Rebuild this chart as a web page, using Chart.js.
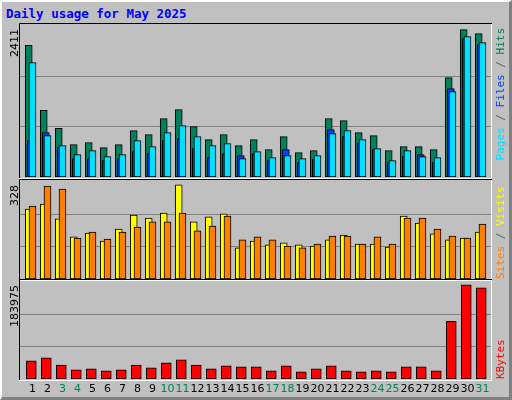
<!DOCTYPE html>
<html>
<head>
<meta charset="utf-8">
<script src="https://cdn.jsdelivr.net/npm/chart.js@4"></script>
<style>
  body { margin: 0; background: #c0c0c0; }
  #wrap {
    position: relative; width: 512px; height: 400px; box-sizing: border-box;
    background: #c0c0c0;
    border-top: 2px solid #ffffff; border-left: 2px solid #ffffff;
    border-right: 3px solid #808080; border-bottom: 3px solid #808080;
    overflow: hidden;
  }
  #title {
    position: absolute; left: 4px; top: 4px;
    font: bold 12.5px "DejaVu Sans Mono", monospace; color: #0000ff;
  }
  canvas { position: absolute; left: -2px; top: -2px; }
</style>
</head>
<body>
<div id="wrap">
  <div id="title">Daily usage for May 2025</div>
  <canvas id="c1" width="512" height="400"></canvas>
  <canvas id="c2" width="512" height="400"></canvas>
  <canvas id="c3" width="512" height="400"></canvas>
</div>
<script>
/* =========================
   DATA
========================= */

const days = [1,2,3,4,5,6,7,8,9,10,11,12,13,14,15,16,17,18,19,20,21,22,23,24,25,26,27,28,29,30,31];
const weekendDays = [3,4,10,11,17,18,24,25,31];

const hits  = [2090,1058,772,513,545,466,513,735,672,926,1069,799,592,672,497,592,434,640,386,418,926,894,704,656,418,481,481,434,1576,2338,2275];
const files = [1814,656,497,354,418,323,354,577,481,704,815,640,497,529,291,402,307,339,291,339,688,735,592,450,259,418,323,307,1354,2227,2132];
const pages = [577,704,466,291,291,259,291,402,370,577,608,450,307,370,339,370,259,434,227,275,751,640,529,434,227,323,354,227,1402,2195,2100];

const visits = [234,251,201,141,154,127,167,214,204,221,315,191,208,218,104,127,114,121,114,110,131,147,117,117,107,211,187,151,131,137,157];
const sites  = [244,311,301,137,157,134,157,174,191,191,221,161,177,211,131,141,131,110,104,117,144,144,117,141,117,204,204,167,144,137,184];

const kbytes = [34236,39942,25994,17118,19020,15216,17118,25994,20922,30432,36138,25994,19020,24726,22824,22824,15216,24726,13314,19020,24726,15216,13314,15216,13314,22824,22824,15216,108414,176886,171180];

const maxHits = 2411;
const maxSites = 328;
const maxKB = 183975;

/* =========================
   HELPERS
========================= */

function pts(values, shift) {
    return values.map((v, i) => ({ x: days[i] + shift, y: v }));
}

function barSet(values, shift, color, width, order) {
    return {
        data: pts(values, shift),
        backgroundColor: color,
        borderColor: "#000000",
        borderWidth: 1,
        borderSkipped: false,
        barThickness: width,
        grouped: false,
        order: order
    };
}

// grid lines, panel frame, max label and side legend
function panelPlugin(maxLabel, legend, alignTop, dayLabels) {
    return {
        id: "panel",
        beforeDatasetsDraw(chart) {
            const ctx = chart.ctx;
            const a = chart.chartArea;
            const y = chart.scales.y;
            ctx.save();
            ctx.strokeStyle = "#808080";
            ctx.lineWidth = 1;
            [y.max / 3, y.max * 2 / 3].forEach(v => {
                const py = Math.round(y.getPixelForValue(v)) + 0.5;
                ctx.beginPath();
                ctx.moveTo(a.left, py);
                ctx.lineTo(a.right, py);
                ctx.stroke();
            });
            ctx.restore();
        },
        afterDraw(chart) {
            const ctx = chart.ctx;
            const a = chart.chartArea;
            ctx.save();
            // frame
            ctx.lineWidth = 1;
            ctx.strokeStyle = "#000000";
            ctx.beginPath();
            ctx.moveTo(a.left - 0.5, a.bottom + 2);
            ctx.lineTo(a.left - 0.5, a.top - 1.5);
            ctx.lineTo(a.right + 1, a.top - 1.5);
            ctx.stroke();
            ctx.strokeStyle = "#ffffff";
            ctx.beginPath();
            ctx.moveTo(a.right + 0.5, a.top - 1);
            ctx.lineTo(a.right + 0.5, a.bottom + 1.5);
            ctx.lineTo(a.left - 1, a.bottom + 1.5);
            ctx.stroke();

            // max value label
            ctx.fillStyle = "#000000";
            ctx.font = "11px 'DejaVu Sans'";
            ctx.translate(18, a.top + 4);
            ctx.rotate(-Math.PI / 2);
            ctx.textAlign = "right";
            ctx.fillText(maxLabel, 0, 0);
            ctx.setTransform(1, 0, 0, 1, 0, 0);

            // side legend, read bottom to top
            ctx.font = "11px 'DejaVu Sans Mono'";
            const total = legend.reduce((s, p) => s + ctx.measureText(p[0]).width, 0);
            let start = alignTop ? a.top + 3 + total : a.bottom;
            ctx.translate(504, start);
            ctx.rotate(-Math.PI / 2);
            ctx.textAlign = "left";
            let off = 0;
            legend.forEach(p => {
                ctx.fillStyle = p[1];
                ctx.fillText(p[0], off, 0);
                off += ctx.measureText(p[0]).width;
            });
            ctx.setTransform(1, 0, 0, 1, 0, 0);

            // day labels
            if (dayLabels) {
                const x = chart.scales.x;
                ctx.font = "11px 'DejaVu Sans'";
                ctx.textAlign = "center";
                days.forEach(d => {
                    ctx.fillStyle = weekendDays.includes(d) ? "#00805c" : "#000000";
                    ctx.fillText(String(d), x.getPixelForValue(d), 392);
                });
            }
            ctx.restore();
        }
    };
}

function makeChart(id, datasets, max, padding, plugin) {
    return new Chart(document.getElementById(id), {
        type: "bar",
        data: { datasets: datasets },
        options: {
            responsive: false,
            animation: false,
            layout: { padding: padding },
            plugins: { legend: { display: false }, tooltip: { enabled: false } },
            scales: {
                x: { type: "linear", min: 0.167, max: 31.57, offset: false, display: false },
                y: { min: 0, max: max, display: false }
            }
        },
        plugins: [plugin]
    });
}

/* =========================
   CHARTS
========================= */

const SEP = "#606060";

makeChart("c1", [
    barSet(hits,  -0.25, "#00805c", 7, 3),
    barSet(pages, -0.11, "#0040ff", 7, 2),
    barSet(files,  0.0,  "#00e0ff", 7, 1)
], maxHits, { left: 20, right: 21, top: 25, bottom: 223 },
panelPlugin("2411", [["Pages", "#00e0ff"], [" / ", SEP], ["Files", "#0040ff"], [" / ", SEP], ["Hits", "#00805c"]], true, false));

makeChart("c2", [
    barSet(visits, -0.25, "#ffff00", 7, 2),
    barSet(sites,   0.0,  "#ff8000", 7, 1)
], maxSites, { left: 20, right: 21, top: 181, bottom: 121 },
panelPlugin("328", [["Sites", "#ff8000"], [" / ", SEP], ["Visits", "#ffff00"]], false, false));

makeChart("c3", [
    barSet(kbytes, -0.08, "#ff0000", 10, 1)
], maxKB, { left: 20, right: 21, top: 281, bottom: 21 },
panelPlugin("183975", [["KBytes", "#ff0000"]], false, true));
</script>
</body>
</html>
